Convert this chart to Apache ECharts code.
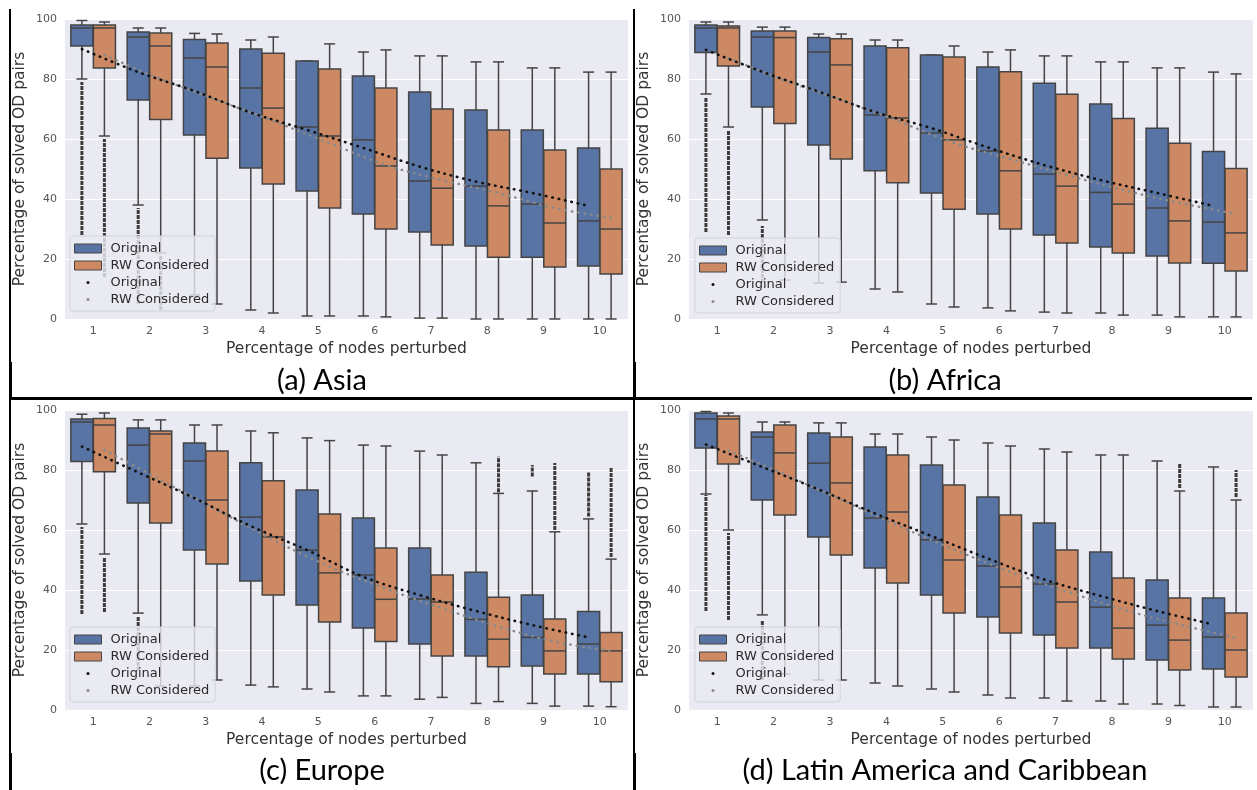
<!DOCTYPE html>
<html>
<head>
<meta charset="utf-8">
<script src="https://cdn.jsdelivr.net/npm/echarts@6/dist/echarts.min.js"></script>
<style>
  html, body { margin: 0; padding: 0; background: #ffffff; }
  #chart { width: 1257px; height: 790px; }
</style>
</head>
<body>
<div id="chart"></div>
<script>
// Percentage of perturbed nodes (x categories)
const categories = ['1', '2', '3', '4', '5', '6', '7', '8', '9', '10'];
const yTicks = [0, 20, 40, 60, 80, 100];

// Box statistics per category: [min, q1, median, q3, max]
// Fliers: [category, lowest, highest] stacks of outliers
// Trend: fitted share of solved OD pairs per category

// (a) Asia
const asiaOriginal = [
  [80, 91, 97, 98, 99.5], [38, 73, 94, 95.7, 97], [8, 61.3, 87, 93.2, 95.2],
  [3, 50.3, 77, 90, 93], [1, 42.7, 64, 86, 86], [1, 35, 59.7, 81, 89],
  [0.3, 29, 46, 75.7, 87.7], [0, 24.3, 44.3, 69.7, 85.7], [0, 20.6, 38.3, 63, 83.7],
  [0, 17.7, 32.7, 57, 82.3]
];
const asiaRW = [
  [61, 83.7, 97, 98, 99], [22, 66.5, 91, 95.3, 97], [5, 53.6, 84, 92, 95],
  [2, 45, 70.3, 88.6, 94], [1, 37, 61, 83.3, 91.7], [0.7, 30, 51, 77, 89.7],
  [0.3, 24.7, 43.6, 70, 87.7], [0, 20.6, 37.7, 63, 85.7], [0, 17.3, 32, 56.3, 83.7],
  [0, 15, 30, 50, 82.3]
];
const asiaOriginalFliers = [[1, 28, 79], [2, 5, 37]];
const asiaRWFliers = [[1, 14, 60], [2, 3, 21]];
const asiaOriginalTrend = [90, 82.3, 76, 68.8, 63, 57, 50.8, 45.8, 42, 37.7];
const asiaRWTrend = [88, 80, 73, 66, 58.6, 51.3, 46.3, 42, 37, 33.7];

// (b) Africa
const africaOriginal = [
  [75, 88.8, 97, 98, 99], [33, 70.7, 94, 96, 97.3], [12, 58, 89, 93.8, 95],
  [10, 49.4, 68, 91, 93], [5, 42, 62, 88, 88], [3.7, 35, 56, 84, 89],
  [2.3, 28, 48.3, 78.6, 87.7], [2, 24, 42.2, 71.7, 85.7], [1.3, 21, 37, 63.6, 83.7],
  [0.7, 18.6, 32.3, 55.8, 82.3]
];
const africaRW = [
  [64, 84.3, 97, 97.7, 99], [13, 65.2, 93.8, 96, 97.3], [12.3, 53.3, 84.7, 93.4, 95],
  [9, 45.4, 67, 90.4, 93], [4, 36.6, 59.7, 87.3, 91], [2.7, 30, 49.4, 82.4, 89.7],
  [2, 25.3, 44.3, 74.9, 87.7], [1.3, 22, 38.3, 66.8, 85.7], [0.7, 18.7, 32.7, 58.6, 83.7],
  [0.7, 16, 28.7, 50.2, 81.7]
];
const africaOriginalFliers = [[1, 29, 74], [2, 12, 31]];
const africaRWFliers = [[1, 28, 63]];
const africaOriginalTrend = [89.7, 82.4, 75.8, 69, 63.6, 57.2, 51.3, 46.3, 42, 37.7];
const africaRWTrend = [87, 79.5, 73, 66, 58.7, 53.3, 48, 43, 38.7, 35];

// (c) Europe
const europeOriginal = [
  [62, 82.8, 96, 97, 98.6], [32.3, 69, 88.3, 94, 96.7], [8, 53.3, 83, 89, 95],
  [8.3, 43, 64.3, 82.4, 93], [7, 35, 53.3, 73.3, 90.7], [4.7, 27.3, 45, 64, 88.3],
  [3.6, 22, 37, 54, 86.3], [2.2, 18, 30.2, 45.9, 82.4], [2.2, 14.7, 24.2, 38.3, 73],
  [1.3, 12, 22, 32.8, 63.7]
];
const europeRW = [
  [52, 79.4, 95, 97.2, 99], [8, 62.3, 92, 93, 96.7], [10, 48.7, 70, 86.3, 95],
  [7.7, 38.3, 57.7, 76.4, 92.4], [6, 29.3, 45.7, 65.3, 89.8], [4.7, 22.8, 36.9, 54, 88],
  [4.2, 18, 36, 45, 85], [2.8, 14.4, 23.6, 37.6, 72.2], [1.3, 12, 19.7, 30.3, 59.4],
  [1.1, 9.4, 19.7, 25.8, 50.3]
];
const europeOriginalFliers = [[1, 32, 61], [2, 13, 31], [9, 77.8, 81.7], [10, 64.5, 79.4]];
const europeRWFliers = [[1, 32.7, 51], [8, 72.6, 84.4], [9, 60, 82.3], [10, 51, 80.7]];
const europeOriginalTrend = [87.8, 79.2, 70.6, 61.3, 53.3, 44.4, 38.3, 33, 28.3, 24.2];
const europeRWTrend = [86.7, 76.7, 66.7, 56.7, 47.8, 40.4, 33.9, 27.8, 22.8, 19.7];

// (d) Latin America and Caribbean
const latamOriginal = [
  [72, 87.3, 97, 99, 99.5], [31.7, 70, 91, 92.7, 96], [10, 57.7, 82.3, 92.3, 95.7],
  [9, 47.3, 64, 87.7, 92], [7, 38.3, 56.7, 81.7, 91], [5, 31, 48, 71, 89],
  [4, 25, 42, 62.3, 87], [3, 20.7, 34.3, 52.7, 85], [2, 16.7, 28.3, 43.3, 83],
  [1, 13.7, 24.3, 37.3, 81]
];
const latamRW = [
  [60, 82, 97, 98, 99], [12, 65, 85.7, 95, 96], [10, 51.7, 75.7, 91, 95.7],
  [8, 42.3, 66, 85, 92], [6, 32.3, 50, 75, 90], [4, 25.7, 41, 65, 88],
  [3, 20.7, 36, 53.3, 86], [2, 17, 27.3, 44, 85], [1.5, 13.3, 23.3, 37.3, 73],
  [1, 11, 20, 32.3, 70]
];
const latamOriginalFliers = [[1, 33, 71.7], [2, 10, 30]];
const latamRWFliers = [[1, 30, 59], [9, 74, 82], [10, 71, 80]];
const latamOriginalTrend = [88.5, 81, 73.5, 65.5, 58, 50.5, 43.5, 38, 33, 28.5];
const latamRWTrend = [86.5, 78.5, 70, 61.5, 53.5, 46, 39.5, 33.5, 28.5, 24];

const captions = ['(a) Asia', '(b) Africa', '(c) Europe', '(d) Latin America and Caribbean'];
const xTitle = 'Percentage of nodes perturbed';
const yTitle = 'Percentage of solved OD pairs';

// ---- styling / layout ----
const BLUE = '#5874A4';
const ORANGE = '#CC8963';
const EDGE = '#444444';
const DODGE = 0.2;        // hue offset in category units
const BOX_HALF = 0.196;   // half box width in category units
const FONT = 'DejaVu Sans';

const panels = [
  { rect: [65, 19, 563, 300], legend: [70, 236], caption: [322, 381],
    orig: asiaOriginal, rw: asiaRW, origFl: asiaOriginalFliers, rwFl: asiaRWFliers,
    origTr: asiaOriginalTrend, rwTr: asiaRWTrend },
  { rect: [689, 19, 564, 300], legend: [695, 238], caption: [945, 381],
    orig: africaOriginal, rw: africaRW, origFl: africaOriginalFliers, rwFl: africaRWFliers,
    origTr: africaOriginalTrend, rwTr: africaRWTrend },
  { rect: [65, 410, 563, 300], legend: [70, 627], caption: [322, 771],
    orig: europeOriginal, rw: europeRW, origFl: europeOriginalFliers, rwFl: europeRWFliers,
    origTr: europeOriginalTrend, rwTr: europeRWTrend },
  { rect: [689, 410, 564, 300], legend: [695, 627], caption: [945, 771],
    orig: latamOriginal, rw: latamRW, origFl: latamOriginalFliers, rwFl: latamRWFliers,
    origTr: latamOriginalTrend, rwTr: latamRWTrend }
];

function boxRenderer(side, color) {
  return function (params, api) {
    const cat = api.value(0);
    const band = api.size([1, 0])[0];
    const xc = api.coord([cat, 0])[0] + side * DODGE * band;
    const half = BOX_HALF * band;
    const cap = half * 0.5;
    const y = (v) => api.coord([cat, v])[1];
    const yMin = y(api.value(1)), yQ1 = y(api.value(2)), yMed = y(api.value(3));
    const yQ3 = y(api.value(4)), yMax = y(api.value(5));
    const ls = { stroke: EDGE, lineWidth: 1.5 };
    return {
      type: 'group',
      children: [
        { type: 'line', shape: { x1: xc, y1: yQ1, x2: xc, y2: yMin }, style: ls },
        { type: 'line', shape: { x1: xc, y1: yQ3, x2: xc, y2: yMax }, style: ls },
        { type: 'line', shape: { x1: xc - cap, y1: yMin, x2: xc + cap, y2: yMin }, style: ls },
        { type: 'line', shape: { x1: xc - cap, y1: yMax, x2: xc + cap, y2: yMax }, style: ls },
        { type: 'rect', shape: { x: xc - half, y: yQ3, width: 2 * half, height: yQ1 - yQ3 },
          style: { fill: color, stroke: EDGE, lineWidth: 1.5 } },
        { type: 'line', shape: { x1: xc - half, y1: yMed, x2: xc + half, y2: yMed }, style: ls }
      ]
    };
  };
}

function flierRenderer(side) {
  return function (params, api) {
    const cat = api.value(0);
    const band = api.size([1, 0])[0];
    const xc = api.coord([cat, 0])[0] + side * DODGE * band;
    const y1 = api.coord([cat, api.value(1)])[1];
    const y2 = api.coord([cat, api.value(2)])[1];
    return {
      type: 'line',
      shape: { x1: xc, y1: y1, x2: xc, y2: y2 },
      style: { stroke: '#3c3c3c', lineWidth: 3, lineDash: [4, 1] }
    };
  };
}

const dotIcon = (fill) => 'image://data:image/svg+xml;utf8,' + encodeURIComponent(
  '<svg xmlns="http://www.w3.org/2000/svg" width="26" height="9">' +
  '<circle cx="13" cy="4.5" r="1.5" fill="' + fill + '"/></svg>');

const grid = [], xAxis = [], yAxis = [], series = [], legend = [], graphic = [];

panels.forEach((p, g) => {
  grid.push({
    left: p.rect[0], top: p.rect[1], width: p.rect[2], height: p.rect[3],
    show: true, backgroundColor: '#EAEAF2', borderWidth: 0, containLabel: false
  });
  xAxis.push({
    type: 'category', gridIndex: g, data: categories,
    axisLine: { show: false }, axisTick: { show: false },
    axisLabel: { margin: 7, fontFamily: FONT, fontSize: 11, color: '#555' },
    splitLine: { show: false },
    name: xTitle, nameLocation: 'middle', nameGap: 22,
    nameTextStyle: { fontFamily: FONT, fontSize: 15.5, color: '#333' }
  });
  xAxis.push({
    type: 'value', gridIndex: g, min: 0.5, max: 10.5, show: false
  });
  yAxis.push({
    type: 'value', gridIndex: g, min: yTicks[0], max: yTicks[yTicks.length - 1], interval: 20,
    axisLine: { show: false }, axisTick: { show: false },
    axisLabel: { margin: 8, fontFamily: FONT, fontSize: 11, color: '#555' },
    splitLine: { show: true, lineStyle: { color: '#ffffff', width: 1 } },
    name: yTitle, nameLocation: 'middle', nameGap: 37,
    nameTextStyle: { fontFamily: FONT, fontSize: 15.5, color: '#333' }
  });

  const catAxis = g * 2, valAxis = g * 2 + 1;
  series.push({
    type: 'custom', name: 'Original', xAxisIndex: catAxis, yAxisIndex: g,
    data: p.orig.map((s, i) => [i].concat(s)),
    encode: { x: 0, y: [1, 2, 3, 4, 5] },
    renderItem: boxRenderer(-1, BLUE), z: 2, silent: true
  });
  series.push({
    type: 'custom', name: 'RW Considered', xAxisIndex: catAxis, yAxisIndex: g,
    data: p.rw.map((s, i) => [i].concat(s)),
    encode: { x: 0, y: [1, 2, 3, 4, 5] },
    renderItem: boxRenderer(1, ORANGE), z: 2, silent: true
  });
  series.push({
    type: 'custom', name: 'Original', xAxisIndex: catAxis, yAxisIndex: g,
    data: p.origFl.map((f) => [f[0] - 1, f[1], f[2]]),
    encode: { x: 0, y: [1, 2] },
    renderItem: flierRenderer(-1), z: 3, silent: true
  });
  series.push({
    type: 'custom', name: 'RW Considered', xAxisIndex: catAxis, yAxisIndex: g,
    data: p.rwFl.map((f) => [f[0] - 1, f[1], f[2]]),
    encode: { x: 0, y: [1, 2] },
    renderItem: flierRenderer(1), z: 3, silent: true
  });
  series.push({
    type: 'line', name: 'Original trend', xAxisIndex: valAxis, yAxisIndex: g,
    data: p.origTr.map((v, i) => [i + 1 - DODGE, v]),
    smooth: 0.35, symbol: 'none', z: 5, silent: true,
    lineStyle: { color: '#111111', width: 2.6, type: [0.5, 6], cap: 'round' }
  });
  series.push({
    type: 'line', name: 'RW Considered trend', xAxisIndex: valAxis, yAxisIndex: g,
    data: p.rwTr.map((v, i) => [i + 1 + DODGE, v]),
    smooth: 0.35, symbol: 'none', z: 4, silent: true,
    lineStyle: { color: '#8a8a8a', width: 2.4, type: [0.5, 6], cap: 'round' }
  });

  legend.push({
    orient: 'vertical', left: p.legend[0], top: p.legend[1],
    itemWidth: 27, itemHeight: 9, itemGap: 4,
    padding: [6, 6, 5, 4],
    backgroundColor: 'rgba(234,234,242,0.8)', borderColor: '#d2d2da', borderWidth: 1, borderRadius: 3,
    textStyle: { fontFamily: FONT, fontSize: 13, color: '#2a2a2a', padding: [0, 0, 0, 4] },
    formatter: (n) => n.replace(' trend', ''),
    selectedMode: false, z: 10,
    data: [
      { name: 'Original', icon: 'rect', itemStyle: { color: BLUE, borderColor: EDGE, borderWidth: 1 } },
      { name: 'RW Considered', icon: 'rect', itemStyle: { color: ORANGE, borderColor: EDGE, borderWidth: 1 } },
      { name: 'Original trend', icon: dotIcon('#111111') },
      { name: 'RW Considered trend', icon: dotIcon('#8a8a8a') }
    ]
  });

  graphic.push({
    type: 'text', x: p.caption[0], y: p.caption[1],
    style: { text: captions[g], fontFamily: 'Lato', fontSize: 29, fill: '#000',
             align: 'center', verticalAlign: 'middle' }
  });
});

// table rules framing the four panels
const rule = (x1, y1, x2, y2, w) => ({
  type: 'line', shape: { x1, y1, x2, y2 }, style: { stroke: '#000', lineWidth: w }
});
graphic.push(rule(10, 9, 10, 362, 2), rule(10.5, 362, 10.5, 398, 3));
graphic.push(rule(634, 9, 634, 362, 2), rule(634.5, 362, 634.5, 398, 3));
graphic.push(rule(10, 398, 10, 753, 2), rule(10.5, 753, 10.5, 790, 3));
graphic.push(rule(634, 398, 634, 753, 2), rule(634.5, 753, 634.5, 790, 3));
graphic.push(rule(9, 398.5, 1252, 398.5, 3));

const chart = echarts.init(document.getElementById('chart'), null, { renderer: 'canvas' });
chart.setOption({
  backgroundColor: '#ffffff',
  animation: false,
  grid, xAxis, yAxis, series, legend, graphic
});
</script>
</body>
</html>
